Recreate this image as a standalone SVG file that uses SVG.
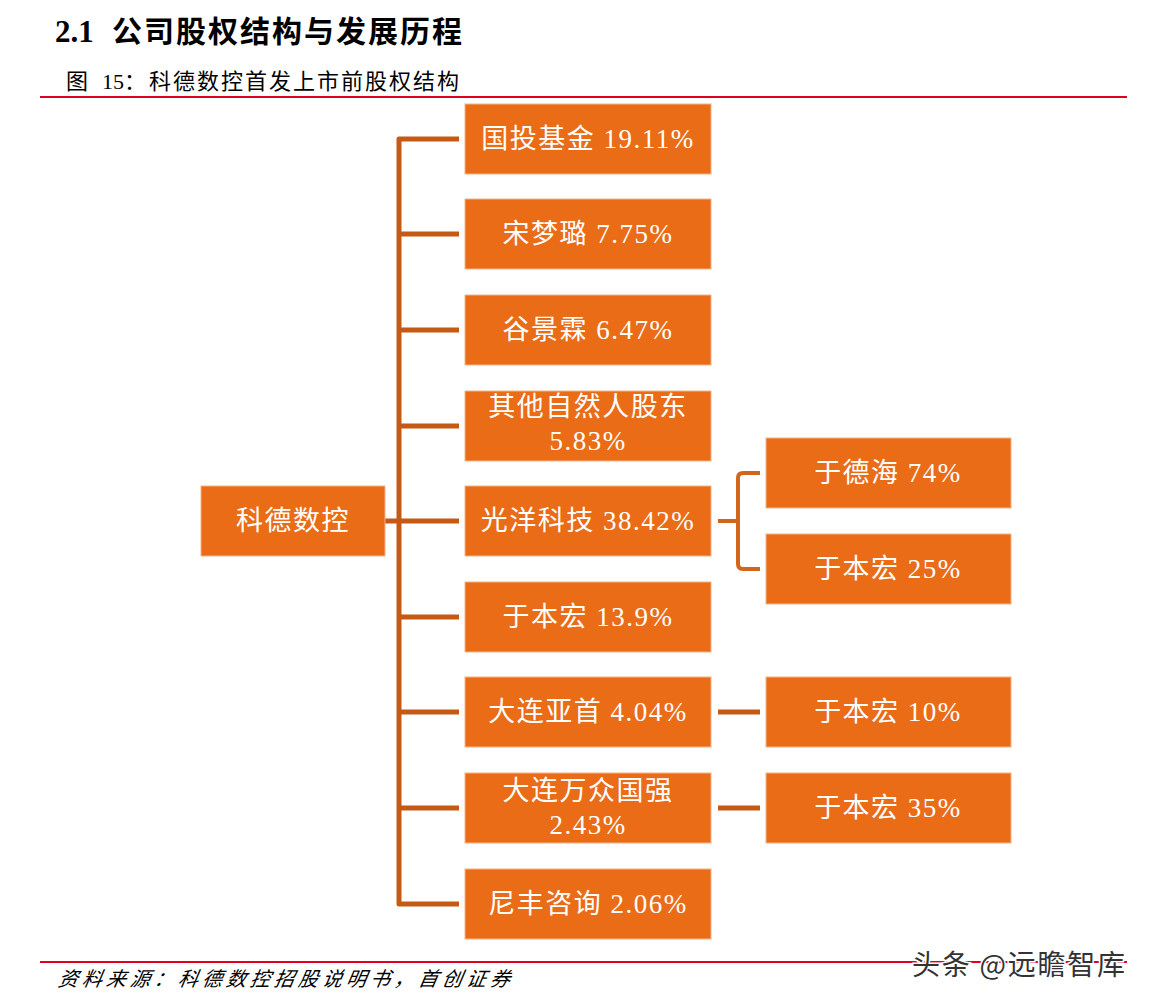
<svg xmlns="http://www.w3.org/2000/svg" width="1149" height="1005" viewBox="0 0 1149 1005">
<style>
.box{fill:#EA6C17;stroke:#F6B48A;stroke-width:1}
.bt{font-family:"Liberation Serif","Noto Sans CJK SC",serif;font-size:27px;fill:#FFFFFF;text-anchor:middle;font-weight:normal;letter-spacing:1.5px}
.con{fill:none;stroke:#C45A14;stroke-width:5;stroke-linejoin:round}
.con2{fill:none;stroke:#D2661A;stroke-width:4;stroke-linejoin:round}
</style>
<rect width="1149" height="1005" fill="#FFFFFF"/>
<g id="header">
<text x="55" y="42" font-family="Liberation Serif,serif" font-weight="bold" font-size="31" fill="#000">2.1</text>
<text x="112" y="42" font-family="'Noto Sans CJK SC',sans-serif" font-weight="bold" font-size="30" fill="#000" textLength="350">公司股权结构与发展历程</text>
<text x="66" y="89" font-family="'Liberation Serif','Noto Sans CJK SC',serif" font-size="22" fill="#000">图</text>
<text x="102" y="89" font-family="'Liberation Serif','Noto Sans CJK SC',serif" font-size="22" fill="#000">15：</text>
<text x="149" y="89" font-family="'Noto Sans CJK SC',sans-serif" font-size="22" fill="#000" textLength="310">科德数控首发上市前股权结构</text>
<line x1="40" y1="97" x2="1127" y2="97" stroke="#E0001B" stroke-width="2"/>
</g>
<g id="connectors">
<path class="con" d="M459,139 H399 V904 H459"/>
<path class="con" d="M399,234 H459 M399,330 H459 M399,426 H459 M399,617 H459 M399,712 H459 M399,808 H459"/>
<path class="con" d="M385,521 H459"/>
<path class="con2" d="M718,521 H738"/>
<path class="con2" d="M760,473 H743 Q738,473 738,478 V564 Q738,569 743,569 H760"/>
<path class="con" d="M718,712 H760 M718,808 H760"/>
</g>
<g id="root"><rect class="box" x="201" y="486" width="184" height="70"/><text class="bt" x="293" y="530">科德数控</text></g>
<g id="n1"><rect class="box" x="465" y="104" width="246" height="70"/><text class="bt" x="588" y="148">国投基金 19.11%</text></g>
<g id="n2"><rect class="box" x="465" y="199" width="246" height="70"/><text class="bt" x="588" y="243">宋梦璐 7.75%</text></g>
<g id="n3"><rect class="box" x="465" y="295" width="246" height="70"/><text class="bt" x="588" y="339">谷景霖 6.47%</text></g>
<g id="n4"><rect class="box" x="465" y="391" width="246" height="70"/><text class="bt" x="588" y="416">其他自然人股东</text><text class="bt" x="588" y="450">5.83%</text></g>
<g id="n5"><rect class="box" x="465" y="486" width="246" height="70"/><text class="bt" x="588" y="530">光洋科技 38.42%</text></g>
<g id="n6"><rect class="box" x="465" y="582" width="246" height="70"/><text class="bt" x="588" y="626">于本宏 13.9%</text></g>
<g id="n7"><rect class="box" x="465" y="677" width="246" height="70"/><text class="bt" x="588" y="721">大连亚首 4.04%</text></g>
<g id="n8"><rect class="box" x="465" y="773" width="246" height="70"/><text class="bt" x="588" y="800">大连万众国强</text><text class="bt" x="588" y="834">2.43%</text></g>
<g id="n9"><rect class="box" x="465" y="869" width="246" height="70"/><text class="bt" x="588" y="913">尼丰咨询 2.06%</text></g>
<g id="r1"><rect class="box" x="766" y="438" width="245" height="70"/><text class="bt" x="888" y="482">于德海 74%</text></g>
<g id="r2"><rect class="box" x="766" y="534" width="245" height="70"/><text class="bt" x="888" y="578">于本宏 25%</text></g>
<g id="r3"><rect class="box" x="766" y="677" width="245" height="70"/><text class="bt" x="888" y="721">于本宏 10%</text></g>
<g id="r4"><rect class="box" x="766" y="773" width="245" height="70"/><text class="bt" x="888" y="817">于本宏 35%</text></g>
<g id="footer">
<line x1="40" y1="962" x2="1127" y2="962" stroke="#E0001B" stroke-width="2"/>
<text x="58" y="986" font-family="'Noto Sans CJK SC',sans-serif" font-style="italic" font-size="20" fill="#000" textLength="452" transform="skewX(-10) translate(173,0)">资料来源：科德数控招股说明书，首创证券</text>
<text x="912" y="975" font-family="'Noto Sans CJK SC',sans-serif" font-size="28" fill="#333" stroke="#FFFFFF" stroke-width="3" paint-order="stroke" textLength="213">头条 @远瞻智库</text>
</g>
</svg>
